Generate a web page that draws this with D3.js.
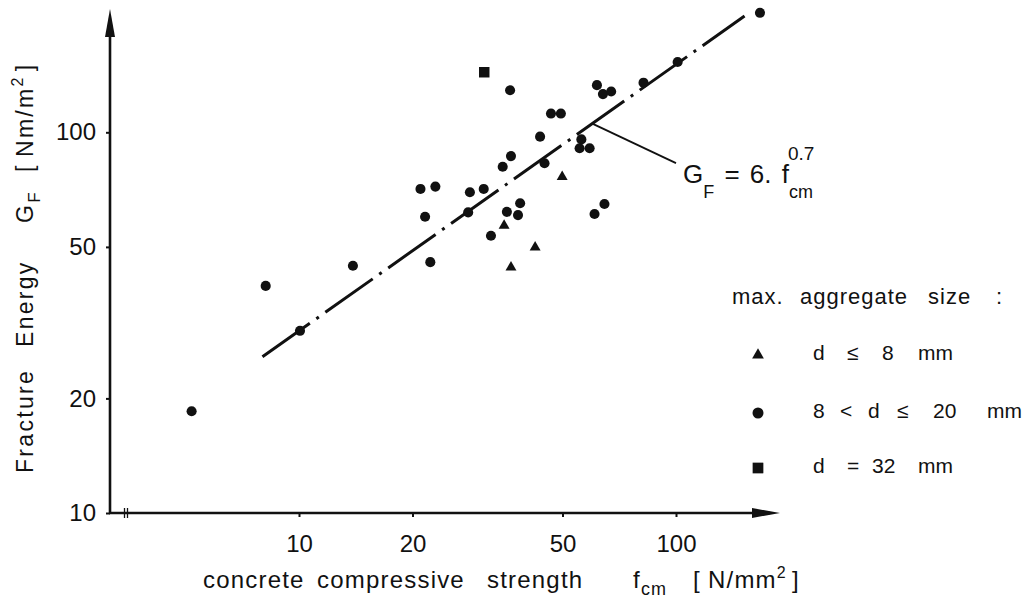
<!DOCTYPE html>
<html>
<head>
<meta charset="utf-8">
<script src="https://cdn.jsdelivr.net/npm/d3@7"></script>
<style>
  body { margin: 0; background: #fff; }
  text { font-family: "Liberation Sans", Arial, sans-serif; fill: #111; }
</style>
</head>
<body>
<svg id="chart" width="1035" height="601"></svg>
<script>
// max. aggregate size d <= 8 mm (triangles)
const fcmSmall = [49.9, 35.0, 42.3, 36.5]
const gfSmall = [76.4, 56.9, 49.9, 44.2]
// 8 < d <= 20 mm (circles)
const fcmMedium = [167, 101, 82.0, 61.7, 64.0, 67.3, 36.3, 46.6, 49.5, 43.6, 56.1, 55.5, 59.0,
    36.5, 34.7, 44.8, 21.0, 23.0, 28.4, 30.9, 21.6, 28.1, 38.6, 35.6, 38.1, 60.8, 64.6,
    32.3, 22.3, 8.16, 13.9, 10.06, 5.19]
const gfMedium = [206, 153, 135, 133, 126, 128, 129, 112, 112, 97.4, 95.8, 90.8, 90.8,
    86.6, 81.2, 82.9, 71.0, 72.0, 69.6, 71.0, 60.0, 61.6, 65.1, 61.8, 60.6, 61.0, 64.8,
    53.5, 45.6, 39.5, 44.6, 30.1, 18.5]
// d = 32 mm (squares)
const fcmLarge = [31.0]
const gfLarge = [143.8]

const xTicks = [10, 20, 50, 100]
const yTicks = [10, 20, 50, 100]

// G_F = 6 . fcm^0.7
const fitCoef = 6
const fitExp = 0.7
const fitRange = [8, 152]
const leaderFrom = 60          // fcm where the label leader touches the line
const leaderTo = [100, 83]     // fcm, GF where the leader ends

const legendTitle = ['max.', 'aggregate', 'size', ':']
const legendLabels = [
    ['d', '≤', '8', 'mm'],
    ['8', '<', 'd', '≤', '20', 'mm'],
    ['d', '=', '32', 'mm']
]
const legendShapes = [d3.symbolTriangle, d3.symbolCircle, d3.symbolSquare]

const svg = d3.select('#chart')

let x = d3.scaleLog().domain([10, 100]).range([299, 676])
let y = d3.scaleLog().domain([10, 100]).range([513, 132.3])

let axisX0 = 110
let axisY0 = 513
let arrowLen = 28
let arrowHalf = 5

// axes with arrows
svg.append('line')
    .attr('x1', axisX0).attr('y1', axisY0)
    .attr('x2', axisX0).attr('y2', 20)
    .attr('stroke', '#111').attr('stroke-width', 2.6)
svg.append('path')
    .attr('d', `M${axisX0},9 L${axisX0 - arrowHalf},${9 + arrowLen} L${axisX0 + arrowHalf},${9 + arrowLen} Z`)
    .attr('fill', '#111')

svg.append('line')
    .attr('x1', axisX0 - 1).attr('y1', axisY0)
    .attr('x2', 770).attr('y2', axisY0)
    .attr('stroke', '#111').attr('stroke-width', 2.6)
svg.append('path')
    .attr('d', `M780,${axisY0} L${780 - arrowLen},${axisY0 - arrowHalf} L${780 - arrowLen},${axisY0 + arrowHalf} Z`)
    .attr('fill', '#111')

// axis break mark
svg.selectAll('.brk').data([124.5, 127.5]).enter()
    .append('line')
    .attr('x1', d => d).attr('x2', d => d)
    .attr('y1', axisY0 - 5).attr('y2', axisY0 + 5)
    .attr('stroke', '#111').attr('stroke-width', 1.3)

// ticks
let gx = svg.append('g')
    .attr('transform', `translate(0,${axisY0})`)
    .call(d3.axisBottom(x).tickValues(xTicks).tickFormat(d3.format('d')).tickSize(4).tickPadding(18))
let gy = svg.append('g')
    .attr('transform', `translate(${axisX0},0)`)
    .call(d3.axisLeft(y).tickValues(yTicks).tickFormat(d3.format('d')).tickSize(4).tickPadding(10))

;[gx, gy].forEach(g => {
    g.select('.domain').remove()
    g.selectAll('line').attr('stroke', '#111').attr('stroke-width', 2)
    g.selectAll('text')
        .style('font-family', '"Liberation Sans", Arial, sans-serif')
        .attr('font-size', 24)
        .attr('fill', '#111')
})

// fitted line
let fitLine = d3.line()
    .x(d => x(d))
    .y(d => y(fitCoef * Math.pow(d, fitExp)))
svg.append('path')
    .attr('d', fitLine(fitRange))
    .attr('fill', 'none')
    .attr('stroke', '#111')
    .attr('stroke-width', 3)
    .attr('stroke-dasharray', '58,8,3,8')

// leader line and formula
let lx1 = x(leaderFrom)
let ly1 = y(fitCoef * Math.pow(leaderFrom, fitExp))
let lx2 = x(leaderTo[0])
let ly2 = y(leaderTo[1])
svg.append('line')
    .attr('x1', lx1).attr('y1', ly1)
    .attr('x2', lx2).attr('y2', ly2)
    .attr('stroke', '#111').attr('stroke-width', 1.8)

let formula = svg.append('text')
    .attr('x', lx2 + 7).attr('y', ly2 + 20)
    .attr('font-size', 26)
formula.append('tspan').text('G')
formula.append('tspan').text('F').attr('font-size', 18).attr('dy', 15)
formula.append('tspan').text(' = 6. f').attr('dy', -15).attr('word-spacing', 3)
formula.append('tspan').text('cm').attr('font-size', 18).attr('dy', 15)
formula.append('tspan').text('0.7').attr('font-size', 19).attr('dx', -25).attr('dy', -38)

// data points
function drawPoints(fcm, gf, shape, size) {
    svg.append('g').selectAll('path')
        .data(fcm.map((f, i) => [f, gf[i]]))
        .enter()
        .append('path')
        .attr('d', d3.symbol().type(shape).size(size))
        .attr('transform', d => `translate(${x(d[0])},${y(d[1])})`)
        .attr('fill', '#111')
}
drawPoints(fcmMedium, gfMedium, d3.symbolCircle, 80)
drawPoints(fcmSmall, gfSmall, d3.symbolTriangle, 52)
drawPoints(fcmLarge, gfLarge, d3.symbolSquare, 110)

// legend
let titleX = [732, 800, 928, 996]
svg.append('text')
    .attr('y', 304)
    .attr('font-size', 22)
    .attr('letter-spacing', 1)
    .selectAll('tspan').data(legendTitle).enter()
    .append('tspan')
    .attr('x', (d, i) => titleX[i])
    .text(d => d)

let legendRows = [355, 413, 468]
let tokenX = [
    [0, 34, 69, 105],
    [0, 27, 55, 84, 120, 174],
    [0, 34, 59, 105]
]
let symbolSizes = [60, 95, 115]
legendLabels.forEach((tokens, i) => {
    svg.append('path')
        .attr('d', d3.symbol().type(legendShapes[i]).size(symbolSizes[i]))
        .attr('transform', `translate(758,${legendRows[i]})`)
        .attr('fill', '#111')
    svg.append('text')
        .attr('y', legendRows[i] + 5)
        .attr('font-size', 21)
        .selectAll('tspan').data(tokens).enter()
        .append('tspan')
        .attr('x', (d, j) => 813 + tokenX[i][j])
        .text(d => d)
})

// axis titles
let xt = svg.append('text')
    .attr('y', 588)
    .attr('font-size', 24)
    .attr('letter-spacing', 1.2)
xt.append('tspan').attr('x', 203).text('concrete')
xt.append('tspan').attr('x', 317).text('compressive')
xt.append('tspan').attr('x', 487).text('strength')
xt.append('tspan').attr('x', 633).text('f')
xt.append('tspan').text('cm').attr('font-size', 18).attr('dy', 7)
xt.append('tspan').attr('x', 693).attr('dy', -7).text('[')
xt.append('tspan').attr('x', 708).text('N/mm')
xt.append('tspan').text('2').attr('font-size', 16).attr('dy', -10)
xt.append('tspan').attr('dx', 5).attr('dy', 10).text(']')

let yt = svg.append('text')
    .attr('transform', 'translate(33,473) rotate(-90)')
    .attr('font-size', 23)
    .attr('letter-spacing', 2.3)
yt.append('tspan').attr('x', 0).text('Fracture')
yt.append('tspan').attr('x', 126).text('Energy')
yt.append('tspan').attr('x', 250).text('G')
yt.append('tspan').text('F').attr('font-size', 17).attr('dy', 7)
yt.append('tspan').attr('x', 301).attr('dy', -7).text('[')
yt.append('tspan').attr('x', 316).text('Nm/m')
yt.append('tspan').text('2').attr('font-size', 16).attr('dy', -10)
yt.append('tspan').attr('dx', 4).attr('dy', 10).text(']')
</script>
</body>
</html>
